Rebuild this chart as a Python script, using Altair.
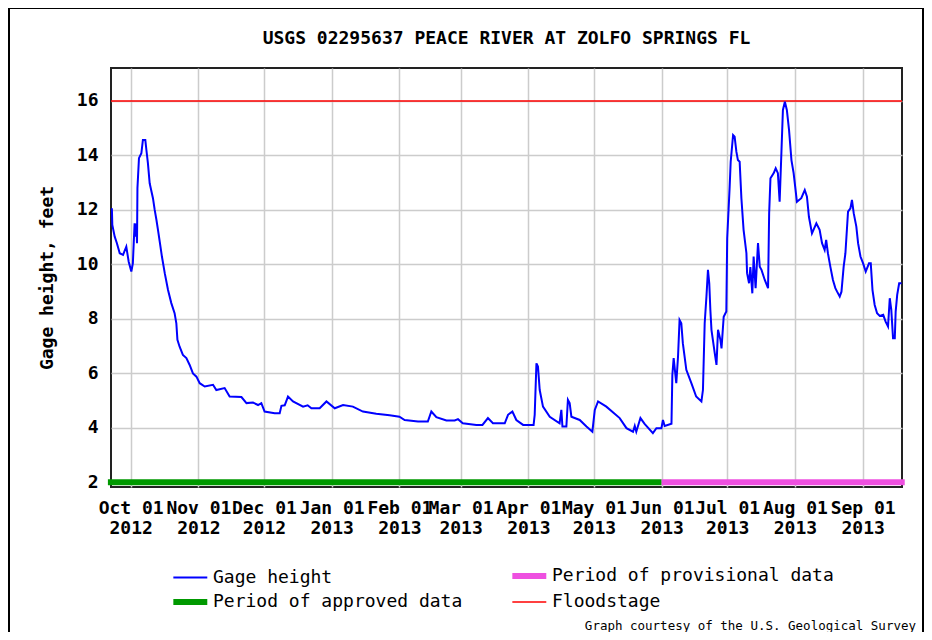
import altair as alt
import pandas as pd

TITLE = "USGS 02295637 PEACE RIVER AT ZOLFO SPRINGS FL"
FOOTER = "Graph courtesy of the U.S. Geological Survey"
Y_TITLE = "Gage height, feet"

# days since 2012-10-01 (start of water year 2013)
day_of_water_year = [
    -8.6, -8.4, -7.3, -6.3, -5.0, -3.5, -2.0, -0.9, 0.3, 1.0,
    1.8, 2.3, 2.6, 2.9, 3.1, 3.8, 4.9, 5.6, 6.7, 7.2,
    7.9, 8.7, 10.2, 11.0, 11.8, 12.5, 13.3, 14.3, 15.6, 17.1,
    18.6, 20.1, 20.9, 21.4, 22.4, 23.9, 25.5, 27.0, 28.5, 30.1,
    31.6, 33.9, 37.7, 39.2, 43.0, 45.3, 50.7, 53.0, 56.0, 58.3,
    59.8, 61.3, 65.9, 68.2, 69.0, 70.5, 72.0, 74.3, 78.9, 81.0,
    82.7, 86.5, 89.6, 93.4, 97.2, 101.7, 106.3, 112.4, 118.5, 123.0,
    125.4, 131.5, 136.0, 137.6, 139.9, 144.5, 148.3, 149.8, 152.0, 158.2,
    161.0, 163.5, 165.8, 171.2, 172.7, 174.7, 176.5, 179.6, 184.4, 184.9,
    185.7, 186.4, 187.2, 188.7, 191.8, 196.3, 197.1, 197.6, 199.4, 200.1,
    200.9, 201.7, 205.5, 208.6, 211.3, 212.4, 213.9, 217.7, 223.8, 226.9,
    229.9, 230.7, 231.4, 233.3, 235.2, 239.0, 240.6, 242.9, 243.6, 244.4,
    247.5, 247.9, 248.5, 249.7, 250.5, 251.2, 252.0, 252.7, 254.3, 256.6,
    258.8, 261.2, 261.9, 262.7, 263.5, 264.2, 264.8, 265.3, 265.8, 267.3,
    268.1, 268.8, 269.9, 270.4, 271.4, 272.6, 273.0, 274.1, 274.6, 275.7,
    276.4, 277.2, 277.9, 278.7, 279.5, 280.5, 281.8, 282.1, 283.0, 283.6,
    284.5, 285.1, 286.0, 287.1, 287.9, 288.7, 290.2, 291.7, 292.2, 292.8,
    294.3, 295.2, 296.2, 297.0, 297.8, 298.5, 299.4, 300.3, 301.3, 302.4,
    303.4, 304.3, 304.9, 306.9, 308.5, 309.5, 310.4, 311.8, 313.8, 315.3,
    316.4, 317.6, 318.3, 319.1, 320.2, 321.4, 322.5, 323.3, 324.5, 325.3,
    326.3, 327.1, 328.3, 329.4, 330.1, 330.9, 332.1, 332.9, 334.0, 335.2,
    336.4, 337.9, 338.7, 339.5, 340.5, 341.6, 342.8, 344.4, 345.5, 346.6,
    347.4, 348.1, 348.9, 349.7, 350.1, 350.8, 351.7, 352.8,
]

gage_ft = [
    12.06, 11.45, 11.02, 10.78, 10.41, 10.35, 10.65, 10.10, 9.74, 10.04,
    11.51, 11.02, 11.50, 10.78, 12.80, 13.90, 14.08, 14.57, 14.57, 14.20,
    13.71, 12.98, 12.43, 12.00, 11.63, 11.27, 10.84, 10.29, 9.68, 9.06,
    8.58, 8.21, 7.84, 7.23, 6.98, 6.68, 6.56, 6.31, 6.00, 5.88,
    5.64, 5.52, 5.58, 5.39, 5.46, 5.15, 5.13, 4.91, 4.93, 4.84,
    4.91, 4.60, 4.54, 4.54, 4.81, 4.83, 5.15, 4.97, 4.78, 4.83,
    4.72, 4.72, 4.97, 4.72, 4.84, 4.78, 4.60, 4.52, 4.46, 4.41,
    4.29, 4.23, 4.23, 4.60, 4.39, 4.27, 4.27, 4.32, 4.17, 4.11,
    4.11, 4.36, 4.17, 4.17, 4.48, 4.60, 4.29, 4.11, 4.11, 4.48,
    6.37, 6.25, 5.39, 4.78, 4.41, 4.17, 4.66, 4.05, 4.05, 5.03,
    4.91, 4.41, 4.29, 4.05, 3.86, 4.66, 4.97, 4.78, 4.36, 3.99,
    3.86, 4.07, 3.86, 4.36, 4.15, 3.81, 3.99, 3.99, 4.29, 4.07,
    4.15, 5.94, 6.56, 5.64, 6.62, 7.96, 7.84, 7.11, 6.13, 5.64,
    5.15, 4.97, 5.39, 7.84, 8.82, 9.80, 9.30, 8.33, 7.60, 6.74,
    6.31, 7.60, 7.23, 6.92, 8.08, 8.27, 10.96, 12.80, 13.77, 14.75,
    14.69, 14.14, 13.83, 13.77, 12.43, 11.27, 10.41, 9.68, 9.31, 9.90,
    8.94, 10.29, 9.13, 10.78, 9.92, 9.80, 9.43, 9.13, 11.88, 13.16,
    13.35, 13.53, 13.35, 12.30, 14.08, 15.67, 15.97, 15.67, 14.94, 13.83,
    13.35, 12.73, 12.30, 12.43, 12.73, 12.49, 11.75, 11.14, 11.51, 11.27,
    10.78, 10.53, 10.90, 10.41, 9.92, 9.43, 9.13, 9.00, 8.82, 9.00,
    9.92, 10.41, 11.94, 12.06, 12.37, 11.88, 11.39, 10.78, 10.29, 10.04,
    9.74, 10.04, 10.04, 9.06, 8.51, 8.21, 8.11, 8.15, 7.90, 7.72,
    8.76, 8.33, 7.29, 7.29, 8.27, 8.88, 9.31, 9.31,
]

period_names = ["Period of approved data", "Period of provisional data"]
period_start = ["2012-09-20T14:00:00", "2013-06-01T00:00:00"]
period_end = ["2013-06-01T00:00:00", "2013-09-20T06:00:00"]
period_level = [2, 2]

floodstage_ft = 16

series_order = ["Gage height", "Period of approved data",
                "Period of provisional data", "Floodstage"]
series_colors = ["#0000ff", "#009900", "#ee50e0", "#ff0000"]
series_widths = [2, 6, 6, 1.5]

month_ticks = [(2012, 10), (2012, 11), (2012, 12), (2013, 1), (2013, 2),
               (2013, 3), (2013, 4), (2013, 5), (2013, 6), (2013, 7),
               (2013, 8), (2013, 9)]
y_ticks = [2, 4, 6, 8, 10, 12, 14, 16]
y_domain = [1.83, 17.21]

FONT = "DejaVu Sans Mono"

base = pd.Timestamp("2012-10-01")
gage = pd.DataFrame({
    "date": base + pd.to_timedelta(day_of_water_year, unit="D"),
    "value": gage_ft,
    "series": "Gage height",
})
periods = pd.DataFrame({
    "start": pd.to_datetime(period_start),
    "end": pd.to_datetime(period_end),
    "value": period_level,
    "series": period_names,
})
flood = pd.DataFrame({"value": [floodstage_ft], "series": ["Floodstage"]})

x_scale = alt.Scale(domain=[alt.DateTime(year=2012, month=9, date=22),
                            alt.DateTime(year=2013, month=9, date=19)])
y_scale = alt.Scale(domain=y_domain, nice=False, zero=False)

x_axis = alt.Axis(
    values=[alt.DateTime(year=y, month=m, date=1) for y, m in month_ticks],
    labelExpr="[timeFormat(datum.value, '%b %d'), timeFormat(datum.value, '%Y')]",
    labelFont=FONT, labelFontWeight="bold", labelFontSize=18,
    labelLineHeight=20, labelPadding=12, labelOverlap=False,
    labelFlush=False, labelBound=False, labelColor="black",
    ticks=False, domain=False, grid=True, title=None,
)
y_axis = alt.Axis(
    values=y_ticks, labelFont=FONT, labelFontWeight="bold", labelFontSize=18,
    labelPadding=13, labelColor="black", ticks=False, domain=False, grid=True,
    title=Y_TITLE, titleFont=FONT, titleFontWeight="bold", titleFontSize=18,
    titleColor="black", titlePadding=20,
)

color = alt.Color("series:N", scale=alt.Scale(domain=series_order, range=series_colors),
                  legend=alt.Legend(title=None))
width_enc = alt.StrokeWidth("series:N",
                            scale=alt.Scale(type="ordinal", domain=series_order, range=series_widths),
                            legend=alt.Legend(title=None))

line = alt.Chart(gage).mark_line(interpolate="linear").encode(
    x=alt.X("date:T", scale=x_scale, axis=x_axis),
    y=alt.Y("value:Q", scale=y_scale, axis=y_axis),
    color=color, strokeWidth=width_enc,
)

bars = alt.Chart(periods).mark_rule(strokeCap="butt").encode(
    x=alt.X("start:T", scale=x_scale, axis=x_axis),
    x2="end:T",
    y=alt.Y("value:Q", scale=y_scale, axis=y_axis),
    color=color, strokeWidth=width_enc,
)

flood_rule = alt.Chart(flood).mark_rule().encode(
    y=alt.Y("value:Q", scale=y_scale, axis=y_axis),
    color=color, strokeWidth=width_enc,
)

footer = alt.Chart(alt.Data(values=[{"t": FOOTER}])).mark_text(
    font=FONT, fontSize=12.5, align="right", baseline="alphabetic", color="black"
).encode(text="t:N", x=alt.value(805), y=alt.value(562))

frame = alt.Chart(alt.Data(values=[{"t": 1}])).mark_rect(
    filled=False, stroke="black", strokeWidth=2
).encode(x=alt.value(-102), x2=alt.value(812), y=alt.value(-60), y2=alt.value(620))

chart = alt.layer(flood_rule, line, bars, footer, frame).properties(
    width=791, height=419,
    title=alt.TitleParams(TITLE, font=FONT, fontSize=18, fontWeight="bold",
                          color="black", offset=-41, anchor="middle"),
    autosize=alt.AutoSizeParams(type="none"),
    padding={"left": 103, "top": 60, "right": 22, "bottom": 145},
).configure_view(
    stroke="#222222", strokeWidth=2
).configure_axis(
    gridColor="#cccccc", gridWidth=1.5
).configure_legend(
    orient="none", legendX=59, legendY=499, columns=2, columnPadding=37,
    gridAlign="each", rowPadding=2, labelFont=FONT, labelFontSize=18,
    labelColor="black", labelOffset=25, labelLimit=400,
    symbolType="M-1,0H5", symbolSize=128,
)

chart.save("out.html", embed_options={"renderer": "svg", "actions": False})
